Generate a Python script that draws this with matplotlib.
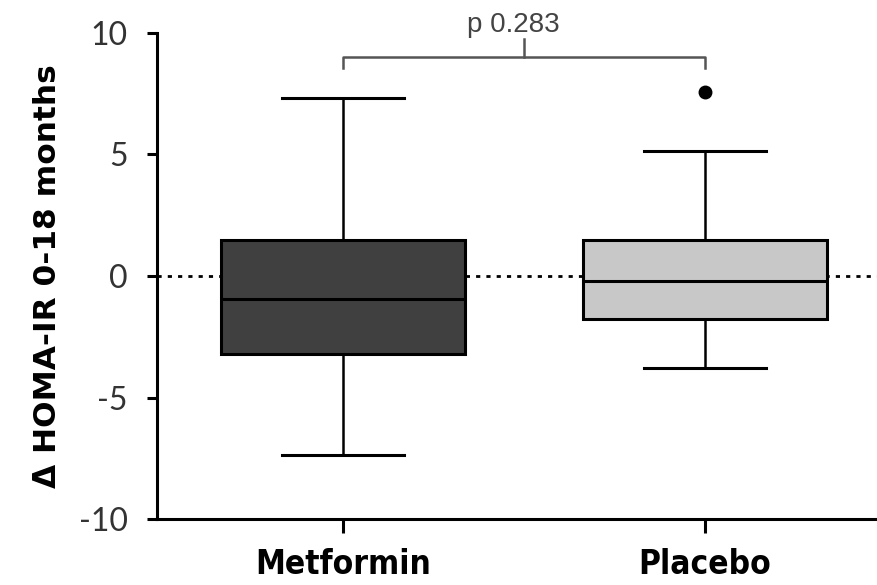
import numpy as np
import matplotlib
matplotlib.use("Agg")
import matplotlib.pyplot as plt

# Change in HOMA-IR from baseline to 18 months, per group
groups = ["Metformin", "Placebo"]
whisker_low = [-7.35, -3.8]
q1 = [-3.2, -1.75]
median = [-0.95, -0.2]
q3 = [1.48, 1.48]
whisker_high = [7.33, 5.14]
outliers = [[], [7.57]]
box_colors = ["#404040", "#c8c8c8"]

p_label = "p 0.283"
y_ticks = [-10, -5, 0, 5, 10]

plt.rcParams["font.family"] = ["Lato", "DejaVu Sans"]

fig = plt.figure(figsize=(8.78, 5.85), dpi=100)
ax = fig.add_axes([0.1788, 0.1128, 0.8212, 0.8308])

stats = []
for i, name in enumerate(groups):
    stats.append({
        "label": name,
        "whislo": whisker_low[i],
        "q1": q1[i],
        "med": median[i],
        "q3": q3[i],
        "whishi": whisker_high[i],
        "fliers": outliers[i],
    })

positions = [1, 2]
bp = ax.bxp(
    stats,
    positions=positions,
    widths=0.674,
    capwidths=0.337,
    patch_artist=True,
    showfliers=True,
    boxprops=dict(linewidth=2.2, edgecolor="black"),
    medianprops=dict(color="black", linewidth=2.2),
    whiskerprops=dict(color="black", linewidth=1.8),
    capprops=dict(color="black", linewidth=2.2),
    flierprops=dict(marker="o", markerfacecolor="black", markeredgecolor="black",
                    markersize=9),
    zorder=3,
)
for patch, c in zip(bp["boxes"], box_colors):
    patch.set_facecolor(c)

# zero reference line
ax.axhline(0, color="black", linewidth=2, linestyle=(0, (1.5, 2.2)), zorder=1)

ax.set_xlim(0.486, 2.478)
ax.set_ylim(-10, 10)
ax.set_yticks(y_ticks)
ax.set_yticklabels([str(t) for t in y_ticks], fontsize=23, color="#333333")
ax.set_xticks(positions)
ax.set_xticklabels(groups, fontsize=24, fontweight="bold",
                   family=["DejaVu Sans"], fontstretch="condensed")

for s in ["top", "right"]:
    ax.spines[s].set_visible(False)
for s in ["left", "bottom"]:
    ax.spines[s].set_linewidth(2.2)
ax.tick_params(axis="y", length=7, width=2.2, pad=14)
ax.tick_params(axis="x", length=10, width=2.2, pad=11)

ax.set_ylabel("\u0394 HOMA-IR 0-18 months", fontsize=22.5, fontweight="bold",
              family=["DejaVu Sans"], labelpad=12)

# significance bracket
br_y, br_drop = 9.0, 8.55
ax.plot([positions[0], positions[0], positions[1], positions[1]],
        [br_drop, br_y, br_y, br_drop], color="#555555", linewidth=1.8,
        clip_on=False, zorder=4)
mid = 1.5
ax.plot([mid, mid], [br_y, 9.75], color="#555555", linewidth=1.8, clip_on=False)
ax.text(mid - 0.03, 9.78, p_label, ha="center", va="bottom", fontsize=20,
        family=["Liberation Sans", "DejaVu Sans"], color="#444444", clip_on=False)

fig.savefig("out.png", dpi=100)
